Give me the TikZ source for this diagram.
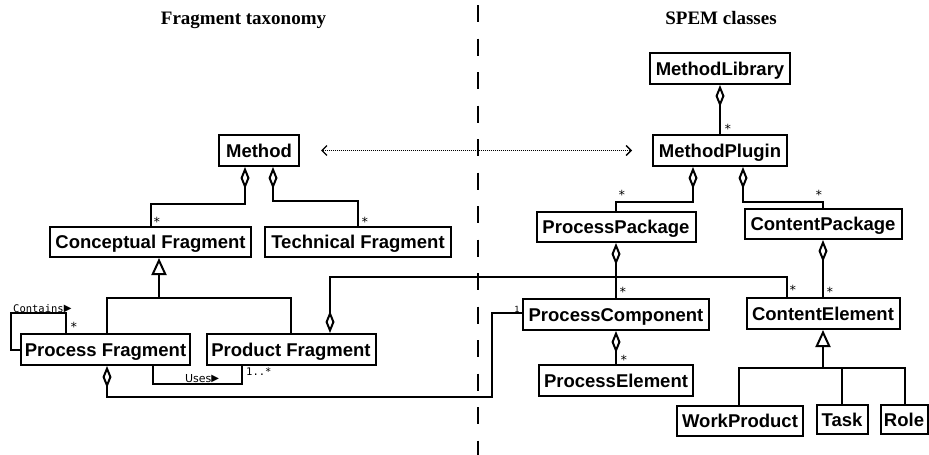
\documentclass[tikz,border=0pt]{standalone}
\usepackage{fontspec}
\setmainfont{Liberation Serif}
\newfontfamily\boxfont{Liberation Sans}
\newfontfamily\multfont{DejaVu Sans Mono}
\newfontfamily\symfont{DejaVu Sans}
\usetikzlibrary{arrows.meta}

\newcommand{\dirmark}{{\symfont\fontsize{10}{10}\selectfont\raisebox{0.3pt}{▶}}}

\begin{document}
\begin{tikzpicture}[x=1pt,y=-1pt,
  cls/.style={draw, line width=2pt, fill=white, inner sep=0pt,
    font=\boxfont\fontsize{18.5}{20}\selectfont\bfseries,
    text height=13.5pt, text depth=0pt, minimum height=31pt},
  conn/.style={line width=2pt},
  agg/.style={conn, {Diamond[open,length=22pt,width=9pt]}-},
  gen/.style={conn, -{Triangle[open,length=17pt,width=15pt]}},
  dotline/.style={line width=1pt, dash pattern=on 1pt off 1pt,
    {Straight Barb[length=5pt,width=10pt,line width=1.4pt]}-{Straight Barb[length=5pt,width=10pt,line width=1.4pt]}},
  mult/.style={font=\multfont\fontsize{10.5}{11}\selectfont, inner sep=0pt, anchor=base},
  star/.style={font=\multfont\fontsize{12.5}{13}\selectfont, inner sep=0pt, anchor=base},
  title/.style={font=\fontsize{19}{22}\selectfont\bfseries, inner sep=0pt, anchor=base}
]
\useasboundingbox (0,0) rectangle (929,455);

% section titles and divider
\node (t1) [title] at (243.5,24) {Fragment taxonomy};
\node (t2) [title] at (721,24) {SPEM classes};
\draw[line width=2pt, dash pattern=on 17pt off 16.5pt] (478,5) -- (478,455);

% fragment taxonomy
\node[cls, minimum width=80pt]  (method) at (259,150.5) {Method};
\node[cls, minimum width=201pt, minimum height=30pt] (cf) at (150.5,242) {Conceptual Fragment};
\node[cls, minimum width=186pt, minimum height=30pt] (tf) at (358,242) {Technical Fragment};
\node[cls, minimum width=169pt] (pf)  at (105.5,349.5) {Process Fragment};
\node[cls, minimum width=169pt] (prf) at (291,349.5) {Product Fragment};

% SPEM classes
\node[cls, minimum width=140pt] (ml) at (720,68.5) {MethodLibrary};
\node[cls, minimum width=134pt] (mp) at (720,150.5) {MethodPlugin};
\node[cls, minimum width=159pt, minimum height=30pt] (pp) at (616,227) {ProcessPackage};
\node[cls, minimum width=157pt, minimum height=30pt] (cp) at (823,224) {ContentPackage};
\node[cls, minimum width=186pt] (pc) at (616,314.5) {ProcessComponent};
\node[cls, minimum width=153pt] (ce) at (823,313.5) {ContentElement};
\node[cls, minimum width=154pt] (pe) at (616,380.5) {ProcessElement};
\node[cls, minimum width=126pt, minimum height=30pt] (wp) at (740,421) {WorkProduct};
\node[cls, minimum width=51pt, minimum height=29pt] (task) at (842,419.5) {Task};
\node[cls, minimum width=47pt, minimum height=29pt] (role) at (904,419.5) {Role};

% correspondence between the two sides
\draw[dotline] ([xshift=21pt]method.east) -- ([xshift=-20pt]mp.west);

% method composition
\draw[agg] ([xshift=-14pt]method.south) -- ++(0,37) -| (cf.north);
\draw[agg] ([xshift=14pt]method.south) -- ++(0,34) -| (tf.north);
\node (m1) [star] at (157,226) {*};
\node (m2) [star] at (365,226) {*};

% fragment specialisation
\coordinate (gj) at ([xshift=8.5pt,yshift=-40pt]cf.south);
\draw[conn] ([xshift=1.5pt]pf.north) |- (gj) -| (prf.north);
\draw[gen] (gj) -- ([xshift=8.5pt]cf.south);

% Contains self association
\draw[conn] (pf.west) -- ++(-9,0) |- ([xshift=-39.5pt,yshift=20pt]pf.north)
  -- ([xshift=-39.5pt]pf.north);
\node (lc) [mult, anchor=base west] at (13,312) {Contains\dirmark};
\node (m3) [star] at (74,331) {*};

% Uses association
\draw[conn] ([xshift=47.5pt]pf.south) -- ++(0,18) -| ([xshift=-49pt]prf.south);
\node (lu) [font=\symfont\fontsize{11}{12}\selectfont, inner sep=0pt, anchor=base] at (202,382)
  {Uses\dirmark};
\node (m4) [mult, anchor=base west] at (246,375) {1..*};

% links into the SPEM side
\draw[agg] ([xshift=1.5pt]pf.south) -- ++(0,31) -| ([xshift=-30pt,yshift=1.5pt]pc.west)
  -- ([yshift=1.5pt]pc.west);
\node (m5) [mult, font=\multfont\fontsize{8.5}{9}\selectfont] at (517,312) {1};
\draw[agg] ([xshift=39pt]prf.north) -- ++(0,-56) -| ([xshift=-36pt]ce.north);
\node (m6) [star] at (793,294) {*};

% SPEM containment
\draw[agg] (ml.south) -- (mp.north);
\node (m7) [star] at (728,133) {*};
\draw[agg] ([xshift=-27pt]mp.south) -- ++(0,35) -| (pp.north);
\node (m8) [star] at (622,199) {*};
\draw[agg] ([xshift=23pt]mp.south) -- ++(0,35) -| (cp.north);
\node (m9) [star] at (819,199) {*};
\draw[agg] (pp.south) -- (pc.north);
\node (m10) [star] at (623,296) {*};
\draw[agg] (cp.south) -- (ce.north);
\node (m11) [star] at (830,296) {*};
\draw[agg] (pc.south) -- (pe.north);
\node (m12) [star] at (624,364) {*};

% content element specialisation
\coordinate (gj2) at ([yshift=-38pt]ce.south);
\draw[conn] ([xshift=-1pt]wp.north) |- (gj2) -| ([xshift=1pt]role.north);
\draw[conn] (task.north) -- (task.north |- gj2);
\draw[gen] (gj2) -- (ce.south);
\end{tikzpicture}
\end{document}
